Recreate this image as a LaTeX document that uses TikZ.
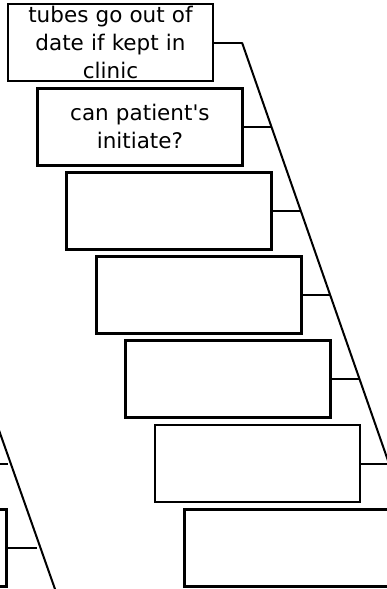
\documentclass[tikz,border=0pt]{standalone}
\usepackage{fontspec}
\setmainfont{DejaVu Sans}

\begin{document}
\begin{tikzpicture}[x=1pt,y=-1pt,
  causebox/.style={draw,line width=2.8pt,minimum width=205pt,minimum height=77pt,
    inner sep=0pt,text width=200pt,align=center,font=\fontsize{21.5}{28}\selectfont},
  bone/.style={line width=2pt}]
\useasboundingbox (0,0) rectangle (387,589);
\clip (0,0) rectangle (387,589);
% right branch
\foreach \k/\txt in {0/{tubes go out of\\date if kept in\\clinic},
    1/{can patient\textquotesingle s\\initiate?},2/,3/,4/,5/,6/} {
  \node[causebox] (r\k) at ({110.5+29.4*\k},{42.5+84.2*\k}) {\txt}; % cause
  \coordinate (rj\k) at ({242+29.4*\k},{42.5+84.2*\k}); % joint on spine
  \draw[bone] (r\k.east) -- (rj\k);
}
\coordinate (rend) at (447.8,631.9);
\draw[bone] (rj0) -- (rend); % spine
% left branch, mostly off the page
\begin{scope}[xshift=-383pt]
\node[causebox] (l6) at (286.9,547.7) {};
\coordinate (ls5) at (361.5,463.5);
\coordinate (lj5) at (391,463.5);
\coordinate (lj6) at (420,547.7);
\coordinate (ltop) at (245.3,42.5);
\coordinate (lend) at (453.1,631.9);
\draw[bone] (ltop) -- (lend); % spine
\draw[bone] (ls5) -- (lj5);
\draw[bone] (l6.east) -- (lj6);
\end{scope}
\end{tikzpicture}
\end{document}
